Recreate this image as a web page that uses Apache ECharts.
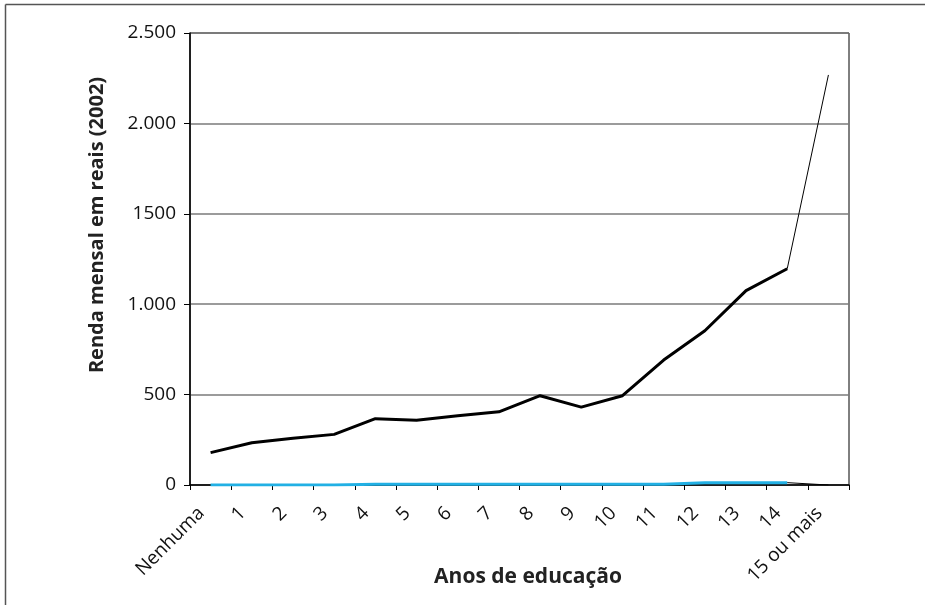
<!DOCTYPE html>
<html>
<head>
<meta charset="utf-8">
<script src="https://cdn.jsdelivr.net/npm/echarts@6/dist/echarts.min.js"></script>
<style>html,body{margin:0;padding:0;background:#fff}#c{width:925px;height:605px}</style>
</head>
<body>
<div id="c"></div>
<script>
const categories = ['Nenhuma','1','2','3','4','5','6','7','8','9','10','11','12','13','14','15 ou mais'];
const rendaPrincipal = [179, 234, 258, 280, 367, 358, 383, 405, 494, 431, 494, 691, 853, 1075, 1196, 2268];
const rendaSecundaria = [0, 0, 0, 0, 4, 4, 4, 4, 4, 4, 4, 4, 13, 13, 13, 0];
const yTickValues = [0, 500, 1000, 1500, 2000, 2500];
const yTickLabels = ['0', '500', '1.000', '1500', '2.000', '2.500'];

const last = categories.length - 1;
const mainPart = arr => arr.map((v, i) => i < last ? v : null);
const tailPart = arr => arr.map((v, i) => i >= last - 1 ? v : null);

const FONT = 'Open Sans';
const chart = echarts.init(document.getElementById('c'), null, {renderer: 'canvas'});
chart.setOption({
  animation: false,
  backgroundColor: '#fff',
  grid: {left: 190, right: 76, top: 33, bottom: 120, show: true, borderColor: '#000', borderWidth: 1, containLabel: false},
  xAxis: {
    type: 'category',
    data: categories,
    boundaryGap: true,
    axisLine: {lineStyle: {color: '#000', width: 1.5}},
    axisTick: {show: true, alignWithLabel: false, length: 5, lineStyle: {color: '#000'}},
    axisLabel: {interval: 0, rotate: 45, margin: 16, padding: [0, 13, 0, 0], color: '#111', fontFamily: FONT, fontSize: 19}
  },
  yAxis: {
    type: 'value',
    min: 0, max: 2500, interval: 500,
    axisLine: {show: true, lineStyle: {color: '#000', width: 1.5}},
    axisTick: {show: true, length: 6, lineStyle: {color: '#000'}},
    splitLine: {show: true, lineStyle: {color: '#7a7a7a', width: 1.5}},
    axisLabel: {
      margin: 14, color: '#111', fontFamily: FONT, fontSize: 19,
      formatter: v => { const k = yTickValues.indexOf(v); return k >= 0 ? yTickLabels[k] : ''; }
    }
  },
  series: [
    {type: 'line', data: mainPart(rendaSecundaria), symbol: 'none', lineStyle: {color: '#22b0e4', width: 3}, z: 3},
    {type: 'line', data: tailPart(rendaSecundaria), symbol: 'none', lineStyle: {color: '#000', width: 1}, z: 3},
    {type: 'line', data: mainPart(rendaPrincipal), symbol: 'none', lineStyle: {color: '#000', width: 3}, z: 4},
    {type: 'line', data: tailPart(rendaPrincipal), symbol: 'none', lineStyle: {color: '#000', width: 1}, z: 4}
  ],
  graphic: [
    {type: 'line', shape: {x1: 5.5, y1: 4.5, x2: 925, y2: 4.5}, style: {stroke: '#555', lineWidth: 1.5}},
    {type: 'line', shape: {x1: 5.5, y1: 4.5, x2: 5.5, y2: 605}, style: {stroke: '#555', lineWidth: 1.5}},
    {type: 'text', x: 97, y: 225, rotation: Math.PI / 2,
      style: {text: 'Renda mensal em reais (2002)', fill: '#222', font: 'bold 20px "Open Sans"', align: 'center', verticalAlign: 'middle'}},
    {type: 'text', x: 528, y: 577,
      style: {text: 'Anos de educação', fill: '#222', font: 'bold 21px "Open Sans"', align: 'center', verticalAlign: 'middle'}}
  ]
});
</script>
</body>
</html>
